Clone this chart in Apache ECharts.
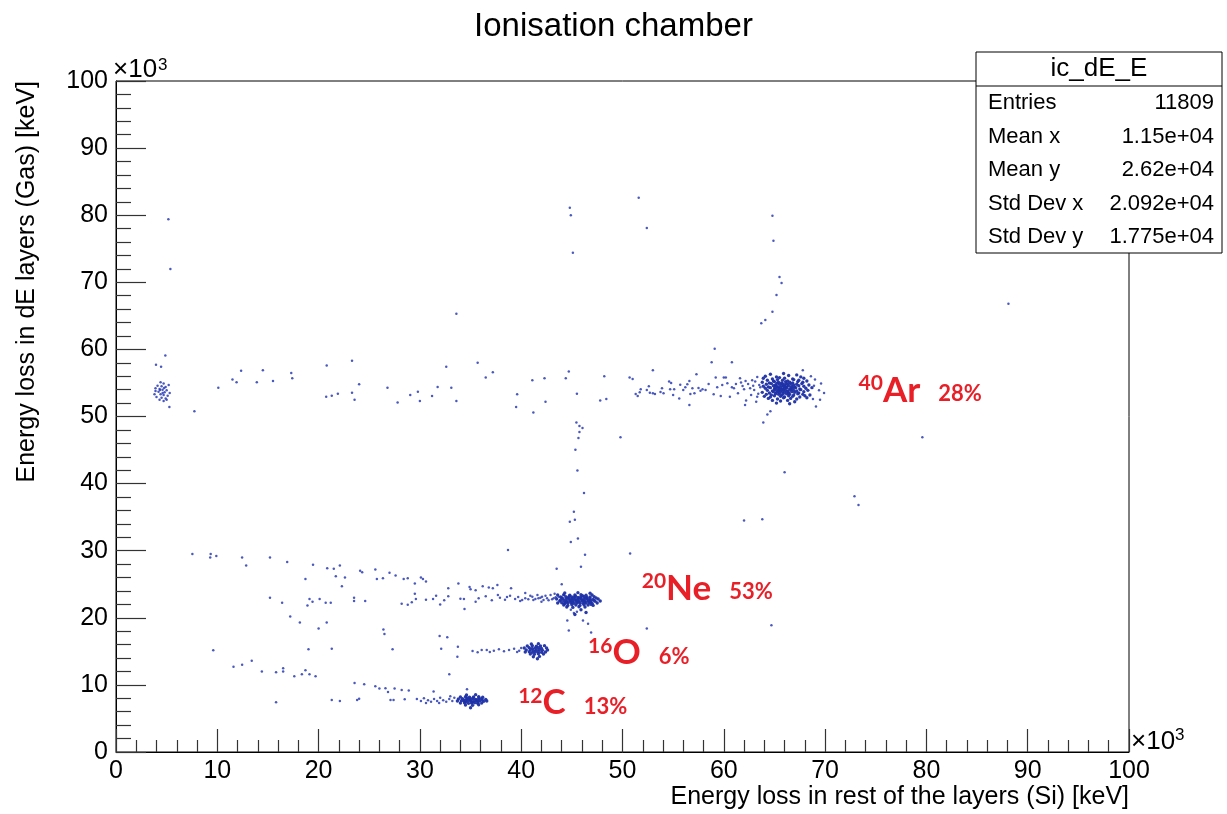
<!DOCTYPE html>
<html>
<head>
<meta charset="utf-8">
<title>Ionisation chamber</title>
<script src="https://cdn.jsdelivr.net/npm/echarts@6/dist/echarts.min.js"></script>
<style>
  html, body { margin: 0; padding: 0; background: #fff; }
  #chart { width: 1227px; height: 814px; }
</style>
</head>
<body>
<div id="chart"></div>
<script>
// values in units of 10^3 keV
var xTicks = [0, 10, 20, 30, 40, 50, 60, 70, 80, 90, 100];
var yTicks = [0, 10, 20, 30, 40, 50, 60, 70, 80, 90, 100];

// isolated hits far from the bands
var strayHits = [
	[5.17,79.4],[5.37,72.0],[33.6,65.3],[4.87,59.1],[3.95,57.7],[4.45,57.4],[5.27,51.4],[7.74,50.8],
	[44.8,81.1],[44.9,80.0],[45.1,74.4],[51.6,82.6],[52.4,78.1],
	[64.8,79.9],[64.9,76.2],[65.5,70.8],[65.7,69.9],[65.2,68.1],[64.1,64.4],[64.8,65.6],[63.7,63.9],[88.1,66.8],
	[59.1,60.1],[58.8,58.1],[60.8,58.1],[53.0,56.9],[67.8,56.9],
	[79.6,46.9],[66.0,41.7],[72.9,38.1],[73.3,36.8],[49.8,46.9],[62.0,34.5],[63.8,34.7],[64.7,18.9],
	[45.45,49.1],[45.75,48.6],[46.05,48.3],[45.75,47.7],[45.65,46.8],[45.35,45.05],[45.55,41.95],[46.2,38.6],
	[45.2,35.8],[45.3,34.6],[44.8,34.3],[45.6,31.8]
];

// spot at low E near 53
var lowSpot = [
	[4.4,55.1],[4.7,54.9],[4.1,54.6],[4.5,54.5],[4.9,54.4],[5.2,54.7],[3.9,54.2],[4.3,54.1],[4.6,54.0],
	[5.0,53.9],[4.2,53.7],[4.8,53.6],[5.3,53.5],[3.8,53.3],[4.4,53.3],[4.7,53.2],[5.1,53.1],[4.0,52.9],
	[4.5,52.8],[4.9,52.7],[4.3,52.5],[4.7,52.3],[5.0,52.5],[3.9,53.8],[4.6,53.5],[4.35,53.95],[4.75,54.25]
];

// argon band
var arBand = [
	[10.1,54.3],[11.5,55.5],[11.9,55.1],[12.35,56.8],[13.9,55.1],[14.5,56.9],[15.5,55.3],[17.3,56.5],[17.4,55.7],
	[20.8,57.6],[20.75,52.95],[21.3,53.1],[21.9,53.4],[23.3,58.3],[23.3,53.55],[23.55,52.5],[24.0,54.8],[26.8,54.3],
	[27.8,52.1],[29.05,53.2],[29.8,53.7],[30.0,52.3],[31.2,53.05],[31.75,54.4],[32.6,57.4],[33.1,54.3],[33.6,52.3],
	[35.7,58.0],[36.5,55.8],[37.2,56.6],[39.6,53.3],[39.5,51.4],
	[44.7,56.7],[44.4,55.7],[42.3,55.7],[41.1,55.4],[41.2,50.6],[42.4,52.2],[45.5,53.4],[48.2,56.0],[47.8,52.4],
	[48.4,52.6],[50.7,55.8],[51.0,55.6],[57.3,56.3],[64.3,50.3],[64.6,50.8],[63.9,49.1],[62.1,51.7],[62.2,52.4],
	[56.6,51.7],[69.1,51.5],[69.5,52.5],
	[51.3,53.35],[51.5,53.05],[51.7,53.6],[51.8,54.05],[52.4,53.95],[52.6,54.5],[52.7,53.55],[53.0,53.45],[53.2,53.35],
	[53.75,53.65],[53.9,54.2],[54.05,53.45],[54.6,55.2],[54.7,54.05],[54.8,55.0],[55.0,53.2],[55.1,54.05],[55.6,52.7],
	[55.7,54.75],[56.0,53.95],[56.2,54.35],[56.4,54.8],[56.6,55.3],[56.7,53.35],[56.9,54.2],[57.1,53.45],[57.5,54.25],
	[57.7,53.85],[57.9,54.05],[58.2,53.95],[58.5,54.85],[59.0,53.3],[59.2,55.8],[59.35,54.35],[59.7,53.05],[59.85,54.7],
	[60.0,55.8],[60.2,55.8],[60.35,54.95],[60.6,52.95],[60.8,54.35],[61.0,54.2],[61.2,54.85],[61.4,53.45],[61.6,55.7],
	[61.7,55.05],[61.85,54.55],[62.0,54.05],[62.15,55.3],[62.4,54.85],[62.6,54.2],[62.7,53.2],[62.8,55.4],[63.0,53.95],
	[63.1,55.2],[63.3,52.95],[63.5,54.7],[63.6,54.35],[68.9,54.6],[69.4,53.9],[69.9,53.5],
	[63.3,55.9],[63.4,53.4],[62.9,54.6],[69.0,55.5],[68.8,52.6],[69.6,54.9],[68.6,56.0],[63.2,52.2]
];

var arCore = [
	[64.6,56.3],[65.9,56.4],[67.2,56.2],
	[64.1,56.0],[65.2,55.9],[66.4,56.1],[67.6,55.9],
	[63.9,55.7],[64.8,55.6],[65.5,55.8],[66.0,55.7],[66.8,55.6],[67.9,55.7],
	[64.3,55.4],[64.9,55.3],[65.3,55.5],[65.8,55.4],[66.3,55.3],[66.9,55.5],[67.4,55.4],[68.2,55.3],
	[63.8,55.1],[64.5,55.0],[65.0,55.2],[65.4,55.1],[65.7,55.0],[66.1,55.2],[66.5,55.1],[66.8,55.0],[67.3,55.2],[67.8,55.1],
	[64.2,54.8],[64.7,54.9],[65.1,54.7],[65.5,54.8],[65.8,54.9],[66.0,54.7],[66.3,54.8],[66.6,54.9],[66.9,54.7],[67.2,54.8],[67.7,54.9],[68.4,54.7],
	[63.9,54.5],[64.4,54.4],[64.9,54.6],[65.2,54.5],[65.4,54.4],[65.7,54.6],[65.9,54.5],[66.2,54.4],[66.4,54.6],[66.7,54.5],[67.0,54.4],[67.4,54.6],[67.9,54.5],
	[64.1,54.2],[64.6,54.3],[65.0,54.1],[65.3,54.2],[65.6,54.3],[65.8,54.1],[66.0,54.2],[66.2,54.3],[66.5,54.1],[66.8,54.2],[67.1,54.3],[67.5,54.1],[68.1,54.2],[68.7,54.3],
	[64.3,53.9],[64.8,53.8],[65.1,54.0],[65.4,53.9],[65.6,53.8],[65.9,54.0],[66.1,53.9],[66.3,53.8],[66.6,54.0],[66.9,53.9],[67.2,53.8],[67.6,54.0],[68.3,53.9],
	[63.8,53.6],[64.5,53.5],[64.9,53.7],[65.2,53.6],[65.5,53.5],[65.8,53.7],[66.0,53.6],[66.4,53.5],[66.7,53.7],[67.0,53.6],[67.4,53.5],[67.9,53.7],
	[64.2,53.3],[64.7,53.2],[65.1,53.4],[65.4,53.3],[65.7,53.2],[66.2,53.4],[66.5,53.3],[66.9,53.2],[67.3,53.4],[67.8,53.3],[68.5,53.2],
	[64.0,53.0],[64.6,52.9],[65.0,53.1],[65.6,53.0],[66.0,52.9],[66.4,53.1],[66.8,53.0],[67.5,52.9],[68.0,53.1],
	[64.4,52.7],[65.3,52.6],[65.9,52.8],[66.6,52.7],[67.2,52.6],[68.2,52.8],
	[64.8,52.4],[65.6,52.3],[66.3,52.4],[67.0,52.2],
	[65.2,52.0],[66.5,51.9],
	[65.05,54.35],[65.55,54.05],[66.05,54.45],[66.35,53.65],[65.35,53.75],[66.65,54.25],[65.85,53.35],[65.25,54.95],[66.15,54.95]
];

// neon band
var neBand = [
	[7.54,29.5],[9.35,29.5],[9.3,29.0],[9.9,29.2],[12.45,29.0],[12.85,27.8],[15.2,29.0],[16.9,28.3],[18.7,25.8],
	[19.45,27.9],[20.85,27.4],[21.5,27.3],[22.1,27.8],[21.7,26.2],[22.6,26.0],[22.3,24.7],[24.1,27.0],[24.3,26.8],
	[25.6,27.2],[25.75,25.8],[26.35,25.9],[27.0,26.7],[27.6,26.3],[28.4,25.8],[28.8,25.9],[29.5,25.1],[30.1,26.0],
	[30.3,25.8],[30.6,25.4],[29.5,23.6],[15.2,23.0],[16.4,22.25],[19.1,22.8],[19.4,22.4],[18.9,21.85],[20.1,22.8],
	[20.7,22.25],[21.2,22.25],[23.5,23.0],[23.5,22.5],[24.6,22.5],[28.2,22.1],[28.8,21.95],[29.2,22.3],[29.6,22.8],
	[30.6,22.7],[31.3,22.8],[31.6,23.3],[32.0,22.0],[32.4,22.6],[32.8,23.2],[32.8,24.4],[33.8,25.1],[34.0,22.85],
	[34.35,22.8],[34.4,21.3],[34.9,24.6],[35.0,24.25],[35.5,24.1],[35.5,22.4],[36.2,24.7],[36.8,24.5],[37.2,24.4],
	[37.65,24.9],[37.7,23.4],[38.7,30.1],[39.0,24.4],[40.4,23.7],[44.0,25.0],[43.5,27.3],[44.9,31.3],[46.3,29.4],
	[45.9,27.6],[50.75,29.6],[44.55,19.6],[44.7,18.1],[46.1,19.6],[46.6,19.1],[46.9,17.8],[52.4,18.4],
	[35.8,22.9],[36.5,23.2],[37.1,22.6],[37.9,23.0],[38.4,22.7],[38.9,23.3],[39.4,22.8],[39.7,23.1],[40.1,22.65],
	[40.4,22.9],[40.7,22.75],[41.1,23.15],[41.2,22.65],[41.6,23.4],[41.7,22.9],[42.06,23.15],[42.2,22.65],[42.55,22.9],
	[42.9,23.4],[43.05,22.75],[43.4,23.05],[43.7,23.15],[44.2,23.4],[44.9,21.2],[45.2,20.7],[45.5,20.9],
	[41.4,22.8],[41.9,23.0],[42.4,23.3],[42.7,22.6],[43.2,22.9],[43.3,23.6],[42.0,22.4],[40.9,23.3],[39.9,22.5],[38.6,23.1]
];

var neCore = [
	[44.3,23.7],[45.6,23.75],[46.8,23.65],
	[43.6,23.4],[44.2,23.45],[44.8,23.35],[45.3,23.4],[45.9,23.45],[46.4,23.35],[47.0,23.4],
	[43.9,23.1],[44.4,23.15],[44.7,23.05],[45.0,23.1],[45.3,23.15],[45.6,23.05],[45.9,23.1],[46.2,23.15],[46.5,23.05],[46.8,23.1],[47.2,23.15],
	[43.5,22.8],[44.1,22.85],[44.4,22.75],[44.7,22.8],[45.0,22.85],[45.3,22.75],[45.6,22.8],[45.9,22.85],[46.2,22.75],[46.5,22.8],[46.8,22.85],[47.1,22.75],[47.6,22.8],
	[43.8,22.5],[44.2,22.55],[44.5,22.45],[44.8,22.5],[45.1,22.55],[45.4,22.45],[45.7,22.5],[46.0,22.55],[46.3,22.45],[46.6,22.5],[46.9,22.55],[47.3,22.45],[47.8,22.5],
	[43.6,22.2],[44.0,22.25],[44.3,22.15],[44.6,22.2],[44.9,22.25],[45.2,22.15],[45.5,22.2],[45.8,22.25],[46.1,22.15],[46.4,22.2],[46.7,22.25],[47.0,22.15],[47.5,22.2],
	[44.2,21.9],[44.6,21.85],[45.0,21.95],[45.4,21.9],[45.8,21.85],[46.2,21.95],[46.6,21.9],[47.1,21.85],
	[44.5,21.6],[45.1,21.55],[45.7,21.65],[46.3,21.6],
	[45.9,21.2],[46.4,20.8],[45.3,20.5],
	[44.55,22.95],[45.15,22.95],[45.75,22.95],[46.35,22.95],[44.85,22.65],[45.45,22.65],[46.05,22.65],[46.65,22.65],
	[44.45,22.35],[45.05,22.35],[45.65,22.35],[46.25,22.35],[46.85,22.35],
	[44.0,23.0],[47.4,22.95],[43.9,22.65],[47.2,22.6],[44.25,22.05],[46.9,22.0],[45.35,23.25],[46.05,23.3],[44.75,23.25]
];

// oxygen band
var oBand = [
	[17.2,20.2],[18.15,19.3],[20.0,18.4],[20.8,19.3],[26.4,18.25],[26.5,17.6],[31.95,17.3],[32.7,17.1],[9.6,15.15],
	[19.0,15.3],[21.3,15.4],[27.3,15.3],[32.1,15.4],[33.75,15.7],[33.7,14.2],[35.2,15.05],[35.7,14.85],[36.1,15.2],[32.9,11.6],
	[36.6,15.2],[36.9,14.9],[37.3,15.1],[37.8,15.3],[38.3,15.0],[38.8,15.2],[39.3,15.4],[39.6,14.9],[39.8,15.1],[40.0,15.5]
];

var oCore = [
	[41.0,16.1],[41.7,16.15],
	[40.6,15.8],[41.1,15.85],[41.5,15.75],[41.9,15.8],[42.3,15.85],
	[40.3,15.5],[40.8,15.55],[41.1,15.45],[41.4,15.5],[41.7,15.55],[42.0,15.45],[42.5,15.5],
	[40.5,15.2],[40.9,15.25],[41.2,15.15],[41.5,15.2],[41.8,15.25],[42.1,15.15],[42.6,15.2],
	[40.4,14.9],[40.8,14.95],[41.1,14.85],[41.4,14.9],[41.7,14.95],[42.0,14.85],[42.4,14.9],
	[40.9,14.6],[41.3,14.55],[41.7,14.65],[42.2,14.6],
	[41.2,14.2],[41.8,14.25],[41.6,13.9]
];

// carbon band
var cBand = [
	[11.6,12.7],[12.45,13.0],[13.4,13.6],[14.4,12.0],[15.8,11.9],[16.5,12.5],[16.5,12.0],[17.6,11.3],[18.35,11.6],
	[18.7,12.2],[19.1,11.6],[19.7,11.3],[15.8,7.4],[21.3,7.75],[22.1,7.6],[23.8,7.75],[24.0,7.95],[23.55,10.3],
	[24.5,10.1],[25.6,9.8],[26.0,9.45],[26.6,9.5],[26.85,8.95],[27.5,9.45],[28.2,9.25],[28.9,9.15],[27.1,7.75],
	[27.4,7.75],[28.5,7.85],[31.35,9.0],[34.65,9.35],
	[29.7,7.9],[30.1,7.6],[30.4,8.0],[30.8,7.7],[31.1,7.5],[31.4,7.9],[31.7,7.6],[32.0,8.1],[32.3,7.7],
	[32.6,7.5],[32.9,7.9],[33.2,7.6],[33.4,8.1],[31.9,7.3],[30.6,7.3],[33.0,8.3]
];

var cCore = [
	[34.6,8.5],[35.5,8.55],
	[34.0,8.2],[34.5,8.25],[34.9,8.15],[35.3,8.2],[35.8,8.25],[36.2,8.15],
	[33.8,7.9],[34.2,7.95],[34.6,7.85],[34.9,7.9],[35.2,7.95],[35.5,7.85],[35.8,7.9],[36.1,7.95],[36.5,7.85],
	[33.7,7.6],[34.1,7.65],[34.4,7.55],[34.7,7.6],[35.0,7.65],[35.3,7.55],[35.6,7.6],[35.9,7.65],[36.3,7.55],[36.6,7.6],
	[34.0,7.3],[34.4,7.35],[34.8,7.25],[35.1,7.3],[35.4,7.35],[35.7,7.25],[36.1,7.3],
	[34.5,7.0],[35.2,6.95],[35.8,7.05],[35.0,6.6],
	[34.35,7.75],[34.95,7.75],[35.55,7.75],[36.15,7.75],[34.65,8.05],[35.25,8.05],[35.85,8.05],
	[34.55,7.45],[35.15,7.45],[35.75,7.45]
];

// isotope labels: anchor in data coords
var isoLabels = [
	{ x: 73.3, y: 53.9, mass: '40', name: 'Ar', share: '28%' },
	{ x: 51.9, y: 24.4, mass: '20', name: 'Ne', share: '53%' },
	{ x: 46.6, y: 14.75, mass: '16', name: 'O', share: '6%' },
	{ x: 39.7, y: 7.3, mass: '12', name: 'C', share: '13%' }
];

var statsTitle = 'ic_dE_E';
var statNames = ['Entries', 'Mean x', 'Mean y', 'Std Dev x', 'Std Dev y'];
var statValues = ['11809', '1.15e+04', '2.62e+04', '2.092e+04', '1.775e+04'];

var sparseHits = [].concat(strayHits, lowSpot, arBand, neBand, oBand, cBand);
var coreHits = [].concat(arCore, neCore, oCore, cCore);

var W = 1227, H = 814;
var GRID = { left: 116, top: 81, right: 98, bottom: 62 };
var plotRight = W - GRID.right, plotBottom = H - GRID.bottom;
var FONT = '"Liberation Sans", Arial, sans-serif';
var RED = '#e81f27';

var chart = echarts.init(document.getElementById('chart'), null, { renderer: 'canvas' });

var graphics = [
	{ type: 'text', left: 'center', top: 10, style: { text: 'Ionisation chamber', font: '33px ' + FONT, fill: '#000' } },
	// x10^3 markers
	{ type: 'text', x: GRID.left - 3, y: GRID.top - 11, style: { text: '\u00d710', font: '26px ' + FONT, fill: '#000', textVerticalAlign: 'middle' } },
	{ type: 'text', x: GRID.left + 42, y: GRID.top - 24, style: { text: '3', font: '17px ' + FONT, fill: '#000', textVerticalAlign: 'top' } },
	{ type: 'text', x: plotRight + 2, y: plotBottom - 10, style: { text: '\u00d710', font: '26px ' + FONT, fill: '#000', textVerticalAlign: 'middle' } },
	{ type: 'text', x: plotRight + 46, y: plotBottom - 25, style: { text: '3', font: '17px ' + FONT, fill: '#000', textVerticalAlign: 'top' } },
	// axis titles
	{ type: 'text', x: plotRight, y: 797, style: { text: 'Energy loss in rest of the layers (Si) [keV]', font: '25px ' + FONT, fill: '#000', textAlign: 'right', textVerticalAlign: 'middle' } },
	{ type: 'text', x: 27, y: GRID.top, rotation: Math.PI / 2, style: { text: 'Energy loss in dE layers (Gas) [keV]', font: '25px ' + FONT, fill: '#000', textAlign: 'right', textVerticalAlign: 'middle' } }
];

// stats box
var box = { x: 976, y: 52, w: 246, h: 201, head: 34 };
graphics.push({ type: 'rect', z: 10, shape: { x: box.x, y: box.y, width: box.w, height: box.h }, style: { fill: '#fff', stroke: '#000', lineWidth: 1 } });
graphics.push({ type: 'line', z: 11, shape: { x1: box.x, y1: box.y + box.head, x2: box.x + box.w, y2: box.y + box.head }, style: { stroke: '#000', lineWidth: 1 } });
graphics.push({ type: 'text', z: 11, x: box.x + box.w / 2, y: box.y + box.head / 2, style: { text: statsTitle, font: '26px ' + FONT, fill: '#000', textAlign: 'center', textVerticalAlign: 'middle' } });
for (var i = 0; i < statNames.length; i++) {
	var rowY = box.y + box.head + 17 + i * 33.5;
	graphics.push({ type: 'text', z: 11, x: box.x + 12, y: rowY, style: { text: statNames[i], font: '22px ' + FONT, fill: '#000', textVerticalAlign: 'middle' } });
	graphics.push({ type: 'text', z: 11, x: box.x + box.w - 8, y: rowY, style: { text: statValues[i], font: '22px ' + FONT, fill: '#000', textAlign: 'right', textVerticalAlign: 'middle' } });
}

var tickColor = '#333';

var option = {
	animation: false,
	backgroundColor: '#fff',
	grid: { left: GRID.left, top: GRID.top, right: GRID.right, bottom: GRID.bottom, show: true, borderColor: '#000', borderWidth: 1, backgroundColor: 'transparent' },
	xAxis: {
		type: 'value', min: xTicks[0], max: xTicks[xTicks.length - 1], interval: xTicks[1] - xTicks[0],
		axisLine: { show: true, onZero: false, lineStyle: { color: '#000', width: 1 } },
		axisTick: { show: true, inside: true, length: 23, lineStyle: { color: tickColor, width: 1.2 } },
		minorTick: { show: true, splitNumber: 5, length: 12, lineStyle: { color: tickColor, width: 1.2 } },
		splitLine: { show: false },
		axisLabel: { color: '#000', fontSize: 25, fontFamily: 'Liberation Sans', margin: 7 }
	},
	yAxis: {
		type: 'value', min: yTicks[0], max: yTicks[yTicks.length - 1], interval: yTicks[1] - yTicks[0],
		axisLine: { show: true, onZero: false, lineStyle: { color: '#000', width: 1 } },
		axisTick: { show: true, inside: true, length: 30, lineStyle: { color: tickColor, width: 1.2 } },
		minorTick: { show: true, splitNumber: 5, length: 15, lineStyle: { color: tickColor, width: 1.2 } },
		splitLine: { show: false },
		axisLabel: { color: '#000', fontSize: 25, fontFamily: 'Liberation Sans', margin: 8 }
	},
	graphic: graphics,
	series: [
		{
			type: 'scatter',
			data: sparseHits,
			symbol: 'circle',
			symbolSize: 2.5,
			silent: true,
			itemStyle: { color: '#2a3cb4', opacity: 0.85 }
		},
		{
			type: 'scatter',
			data: coreHits,
			symbol: 'circle',
			symbolSize: 3.4,
			silent: true,
			itemStyle: { color: '#1d30a6', opacity: 0.95 }
		},
		{
			type: 'scatter',
			symbolSize: 0,
			silent: true,
			itemStyle: { opacity: 1 },
			data: isoLabels.map(function (d) {
				return { value: [d.x, d.y], label: { formatter: '{mass|' + d.mass + '}{name|' + d.name + '}{share|' + d.share + '}' } };
			}),
			label: {
				show: true,
				position: 'right',
				distance: 0,
				opacity: 1,
				rich: {
					mass: { fontFamily: 'Lato', fontWeight: 'bold', fontSize: 21, color: RED, lineHeight: 21, verticalAlign: 'top' },
					name: { fontFamily: 'Lato', fontWeight: 'bold', fontSize: 35, color: RED, lineHeight: 35 },
					share: { fontFamily: 'Lato', fontWeight: 'bold', fontSize: 22, color: RED, lineHeight: 22, verticalAlign: 'bottom', padding: [0, 0, 3, 18] }
				}
			}
		}
	]
};

chart.setOption(option);
</script>
</body>
</html>
